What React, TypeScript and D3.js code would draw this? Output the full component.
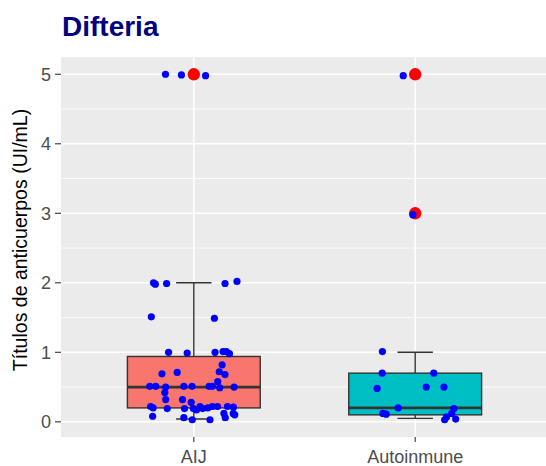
import React from "react";
import * as d3 from "d3";

// Groups
const categories = ["AIJ", "Autoinmune"];
const fills = ["#F8766D", "#00BFC4"];

// Box statistics per group: lower whisker, Q1, median, Q3, upper whisker
const whiskerLow = [0.04, 0.05];
const q1 = [0.2, 0.1];
const median = [0.5, 0.2];
const q3 = [0.94, 0.7];
const whiskerHigh = [2.0, 1.0];

// Outliers per group
const outliersAIJ = [5];
const outliersAuto = [5, 3];

// Individual observations (value, horizontal jitter as a fraction of the category step)
const aijValues = [
  5.0, 4.99, 4.98,
  2.0, 1.98, 1.99, 1.99, 2.02,
  1.51, 1.49,
  1.0, 0.99, 1.0, 1.01, 1.01, 0.98,
  0.82,
  0.69, 0.71, 0.72, 0.68,
  0.51, 0.51, 0.5, 0.51, 0.51, 0.51, 0.51, 0.58, 0.49, 0.5,
  0.42, 0.32, 0.32, 0.28,
  0.2, 0.22, 0.19, 0.19, 0.19, 0.22, 0.19, 0.2, 0.22, 0.22, 0.22, 0.21, 0.17,
  0.08, 0.06, 0.03, 0.03, 0.12, 0.06, 0.12, 0.1,
];
const aijJitter = [
  -0.128, -0.056, 0.053,
  -0.182, -0.174, -0.123, 0.141, 0.195,
  -0.192, 0.093,
  -0.114, -0.030, 0.096, 0.132, 0.147, 0.161,
  0.128,
  -0.144, -0.075, 0.115, 0.141,
  -0.199, -0.172, -0.127, -0.045, -0.008, 0.069, 0.084, 0.108, 0.117, 0.182,
  -0.131, -0.127, -0.051, -0.012,
  -0.184, -0.195, -0.120, -0.042, -0.002, 0.028, 0.040, 0.063, 0.084, 0.107, 0.152, 0.179, 0.012,
  -0.186, -0.045, -0.007, 0.073, 0.136, 0.142, 0.178, 0.185,
];

const autoValues = [
  4.98, 2.98,
  1.01, 0.7, 0.7, 0.48, 0.5, 0.5,
  0.2, 0.12, 0.11, 0.19, 0.12, 0.07, 0.03, 0.04,
];
const autoJitter = [
  -0.054, -0.010,
  -0.148, -0.149, 0.084, -0.172, 0.050, 0.130,
  -0.077, -0.146, -0.131, 0.175, 0.165, 0.142, 0.133, 0.183,
];

const yTicks = [0, 1, 2, 3, 4, 5];
const yMinor = [0.5, 1.5, 2.5, 3.5, 4.5];

const W = 546;
const H = 466;
const panel = { left: 61, right: 548, top: 57, bottom: 437 };
const font = "'Liberation Sans', Arial, Helvetica, sans-serif";

export default function App() {
  const all = [...aijValues, ...autoValues, ...outliersAIJ, ...outliersAuto];
  const [lo, hi] = d3.extent(all) as [number, number];
  const pad = (hi - lo) * 0.05;

  const y = d3.scaleLinear().domain([lo - pad, hi + pad]).range([panel.bottom, panel.top]);
  const x = d3.scalePoint<string>().domain(categories).range([panel.left, panel.right]).padding(0.6);
  const step = x.step();
  const boxW = step * 0.6;
  const capW = step * 0.16;

  const groups = [
    { cat: categories[0], values: aijValues, jitter: aijJitter, outliers: outliersAIJ },
    { cat: categories[1], values: autoValues, jitter: autoJitter, outliers: outliersAuto },
  ];

  return (
    <svg
      width={W}
      height={H}
      style={{ position: "absolute", left: 0, top: 0, background: "#fff" }}
      fontFamily={font}
    >
      <defs>
        <clipPath id="panel-clip">
          <rect x={panel.left} y={panel.top} width={panel.right - panel.left} height={panel.bottom - panel.top} />
        </clipPath>
      </defs>

      <text x={62} y={36} fontSize={28} fontWeight="bold" fill="#000080">
        Difteria
      </text>

      <g clipPath="url(#panel-clip)">
        <rect
          x={panel.left}
          y={panel.top}
          width={panel.right - panel.left}
          height={panel.bottom - panel.top}
          fill="#EBEBEB"
        />
        {yMinor.map((v) => (
          <line key={"mn" + v} x1={panel.left} x2={panel.right} y1={y(v)} y2={y(v)} stroke="#fff" strokeWidth={0.8} />
        ))}
        {yTicks.map((v) => (
          <line key={"mj" + v} x1={panel.left} x2={panel.right} y1={y(v)} y2={y(v)} stroke="#fff" strokeWidth={1.6} />
        ))}
        {categories.map((c) => (
          <line key={"vx" + c} x1={x(c)} x2={x(c)} y1={panel.top} y2={panel.bottom} stroke="#fff" strokeWidth={1.6} />
        ))}

        {groups.map((g, i) => {
          const cx = x(g.cat) as number;
          return (
            <g key={"box" + g.cat}>
              <line x1={cx - capW / 2} x2={cx + capW / 2} y1={y(whiskerHigh[i])} y2={y(whiskerHigh[i])} stroke="#333" strokeWidth={1.4} />
              <line x1={cx - capW / 2} x2={cx + capW / 2} y1={y(whiskerLow[i])} y2={y(whiskerLow[i])} stroke="#333" strokeWidth={1.4} />
              <line x1={cx} x2={cx} y1={y(whiskerHigh[i])} y2={y(q3[i])} stroke="#333" strokeWidth={1.4} />
              <line x1={cx} x2={cx} y1={y(whiskerLow[i])} y2={y(q1[i])} stroke="#333" strokeWidth={1.4} />
              <rect
                x={cx - boxW / 2}
                y={y(q3[i])}
                width={boxW}
                height={y(q1[i]) - y(q3[i])}
                fill={fills[i]}
                stroke="#333"
                strokeWidth={1.4}
              />
              <line x1={cx - boxW / 2} x2={cx + boxW / 2} y1={y(median[i])} y2={y(median[i])} stroke="#333" strokeWidth={2.8} />
              {g.outliers.map((v, k) => (
                <circle key={"o" + k} cx={cx} cy={y(v)} r={6.2} fill="#FF0000" />
              ))}
            </g>
          );
        })}

        {groups.map((g) => {
          const cx = x(g.cat) as number;
          return (
            <g key={"pts" + g.cat}>
              {g.values.map((v, k) => (
                <circle key={k} cx={cx + g.jitter[k] * step} cy={y(v)} r={3.6} fill="#0000FF" />
              ))}
            </g>
          );
        })}
      </g>

      {yTicks.map((v) => (
        <g key={"yt" + v}>
          <line x1={panel.left - 6} x2={panel.left} y1={y(v)} y2={y(v)} stroke="#333" strokeWidth={1.1} />
          <text x={panel.left - 10} y={y(v)} dy="0.36em" textAnchor="end" fontSize={18} fill="#4D4D4D">
            {v}
          </text>
        </g>
      ))}

      {categories.map((c) => (
        <g key={"xt" + c}>
          <line x1={x(c)} x2={x(c)} y1={panel.bottom} y2={panel.bottom + 5} stroke="#333" strokeWidth={1.1} />
          <text x={x(c)} y={463} textAnchor="middle" fontSize={18} fill="#4D4D4D">
            {c}
          </text>
        </g>
      ))}

      <text
        transform={`translate(27, 240) rotate(-90)`}
        textAnchor="middle"
        fontSize={19.5}
        fill="#000"
      >
        Títulos de anticuerpos (UI/mL)
      </text>
    </svg>
  );
}
